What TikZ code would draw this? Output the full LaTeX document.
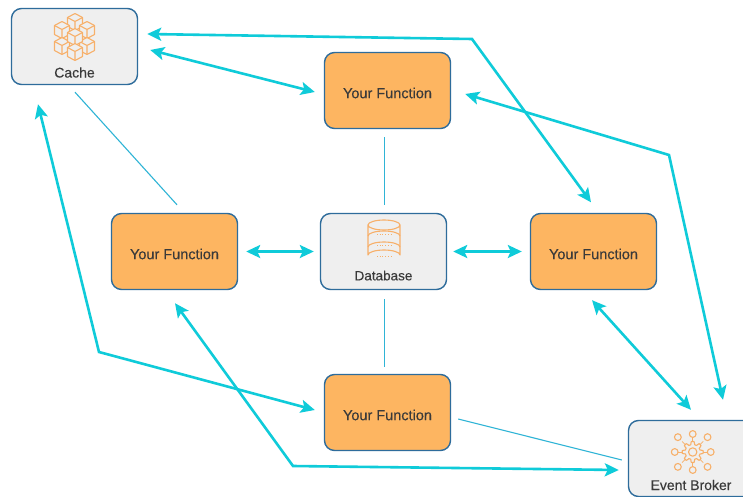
\documentclass[tikz,border=0pt]{standalone}
\usepackage{fontspec}
\setmainfont{Liberation Sans}[FakeBold=0.25]
\usetikzlibrary{arrows.meta}
\definecolor{cy}{HTML}{0FCBD9}
\definecolor{thincy}{HTML}{2FB4D6}
\definecolor{edge}{HTML}{2E6C9B}
\definecolor{gbox}{HTML}{EFEFEF}
\definecolor{obox}{HTML}{FDB561}
\definecolor{ico}{HTML}{F7B06A}
\definecolor{txt}{HTML}{3A3A3A}
\tikzset{
 box/.style={draw=edge,line width=1.4pt,rounded corners=10pt,minimum width=126pt,minimum height=76pt,inner sep=0pt},
 graybox/.style={box,fill=gbox},
 fnbox/.style={box,fill=obox},
 lab/.style={font=\fontsize{14}{15}\selectfont,text=txt,inner sep=0pt},
 fnlab/.style={lab,font=\fontsize{14.5}{16}\selectfont},
 thick arrow/.style={draw=cy,line width=2.6pt,{Stealth[length=14pt,width=13pt,inset=3pt]}-{Stealth[length=14pt,width=13pt,inset=3pt]}},
 thin link/.style={draw=thincy,line width=1.1pt},
 icon/.style={draw=ico,line width=1.1pt,line join=round},
}
\newcommand{\isocube}[2]{%
 \filldraw[icon,fill=gbox] (#1-7.5,#2-4.5) -- (#1,#2-8.5) -- (#1+7.5,#2-4.5) -- (#1+7.5,#2+4.5) -- (#1,#2+8.5) -- (#1-7.5,#2+4.5) -- cycle;
 \draw[icon] (#1-7.5,#2-4.5) -- (#1,#2-0.5) -- (#1+7.5,#2-4.5) (#1,#2-0.5) -- (#1,#2+8.5);
}
\begin{document}
\begin{tikzpicture}[x=1pt,y=-1pt]
\useasboundingbox (0,0) rectangle (743,497);
\clip (0,0) rectangle (743,497);
\fill[white] (0,0) rectangle (743,497);
\node[graybox] (cache) at (74.5,46.5) {};
\node[fnbox] (ftop) at (387.5,90.5) {};
\node[fnbox] (fleft) at (174.5,251.5) {};
\node[graybox] (db) at (383.5,251.5) {};
\node[fnbox] (fright) at (593.5,251.5) {};
\node[fnbox] (fbot) at (387.5,412.5) {};
\node[graybox] (broker) at (691.5,458.5) {};
\node[fnlab] (ftoplab) at (387.5,93) {Your Function};
\node[fnlab] (fleftlab) at (174.5,254) {Your Function};
\node[fnlab] (frightlab) at (593.5,254) {Your Function};
\node[fnlab] (fbotlab) at (387.5,415) {Your Function};
\node[lab] (cachelab) at (74.5,72.5) {Cache};
\node[lab,font=\fontsize{13.5}{15}\selectfont] (dblab) at (383.5,275.5) {Database};
\node[lab] (brokerlab) at (691,485) {Event Broker};
% cache icon
\isocube{75}{22}
\isocube{62}{30}
\isocube{87}{30}
\isocube{62}{46}
\isocube{87}{46}
\isocube{75}{37}
\isocube{75}{52}
% database icon
\filldraw[icon,fill=gbox] (368,225) -- (368,255) arc[start angle=180,end angle=360,x radius=16,y radius=5] -- (400,225) arc[start angle=0,end angle=180,x radius=16,y radius=5] -- cycle;
\draw[icon] (368,225) arc[start angle=180,end angle=360,x radius=16,y radius=5];
\draw[icon] (368,236) arc[start angle=180,end angle=360,x radius=16,y radius=5];
\draw[icon] (368,247) arc[start angle=180,end angle=360,x radius=16,y radius=5];
\foreach \yy in {234,245,256}{\draw[ico,line width=0.7pt,dotted] (377,\yy) -- (391,\yy);}
% broker icon
\foreach \a in {0,45,...,315}{
 \draw[icon,line width=0.7pt] (692.7,452)++(\a:10) -- ++(\a:5);
}
\foreach \a/\r in {0/18,90/18,180/18,270/18,45/21,135/21,225/21,315/21}{
 \filldraw[icon,fill=gbox] (692.7,452)++(\a:\r) circle[radius=3.4];
}
\filldraw[icon,fill=gbox,shift={(692.7,452)}] plot[samples=97,domain=0:360] (\x:{9+1.5*sign(cos(8*\x))}) -- cycle;
\draw[icon] (692.7,452) circle[radius=4.2];
% thick connectors
\coordinate (w1) at (472,39);
\coordinate (w3) at (669,155);
\coordinate (w5) at (99,352);
\coordinate (w6) at (293,466);
\draw[thick arrow] ([shift={(9,-12.5)}]cache.east) -- (w1) -- ([shift={(-2.5,-10.5)}]fright.north);
\draw[thick arrow] ([shift={(12,3.5)}]cache.east) -- ([shift={(-9,1.5)}]ftop.west);
\draw[thick arrow] ([shift={(14,3.5)}]ftop.east) -- (w3) -- ([shift={(31.5,-20)}]broker.north);
\draw[thick arrow] ([xshift=8pt]fleft.east) -- ([xshift=-6pt]db.west);
\draw[thick arrow] ([xshift=6pt]db.east) -- ([xshift=-8pt]fright.west);
\draw[thick arrow] ([shift={(-36.5,19)}]cache.south) -- (w5) -- ([shift={(-9,-2.5)}]fbot.west);
\draw[thick arrow] ([shift={(0.5,13)}]fleft.south) -- (w6) -- ([shift={(-9,11.5)}]broker.west);
\draw[thick arrow] ([shift={(-1.5,10)}]fright.south) -- ([shift={(-0.5,-10)}]broker.north);
% thin connectors
\draw[thin link] ([shift={(0.5,7)}]cache.south) -- ([shift={(2.5,-8)}]fleft.north);
\draw[thin link] ([shift={(-3,8)}]ftop.south) -- ([shift={(1,-8)}]db.north);
\draw[thin link] ([shift={(1,9)}]db.south) -- ([shift={(-3,-7)}]fbot.north);
\draw[thin link] ([shift={(7,6.5)}]fbot.east) -- ([shift={(-6,1.5)}]broker.west);
\end{tikzpicture}
\end{document}
